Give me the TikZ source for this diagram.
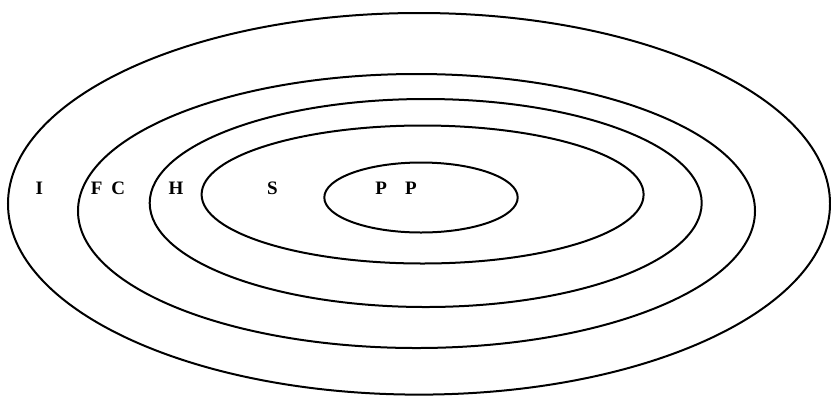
\documentclass[tikz,border=0pt]{standalone}
\usepackage{fontspec}
\setmainfont{Liberation Serif}
\begin{document}
\begin{tikzpicture}[x=1bp,y=-1bp,
  ring/.style={draw=black,line width=2bp},
  lbl/.style={anchor=base,inner sep=0pt,font=\fontsize{19bp}{21bp}\selectfont\bfseries}]
\useasboundingbox (0,0) rectangle (831,396);
\fill[white] (0,0) rectangle (831,396);
\draw[ring] (419,203.8) ellipse [x radius=411bp, y radius=190.8bp];
\draw[ring] (416.5,211) ellipse [x radius=338.5bp, y radius=137bp];
\draw[ring] (425.7,203) ellipse [x radius=276bp, y radius=104bp];
\draw[ring] (422.6,194.5) ellipse [x radius=221bp, y radius=69bp];
\draw[ring] (421,197.5) ellipse [x radius=96.7bp, y radius=35bp];
\node[lbl] (i) at (39.3,194.3) {I};
\node[lbl] (fc) at (108,194.3) {F\hspace{9bp}C};
\node[lbl] (h) at (176,194.3) {H};
\node[lbl] (s) at (272.5,194.3) {S};
\node[lbl] (pp) at (396,194.3) {P\hspace{18bp}P};
\end{tikzpicture}
\end{document}
